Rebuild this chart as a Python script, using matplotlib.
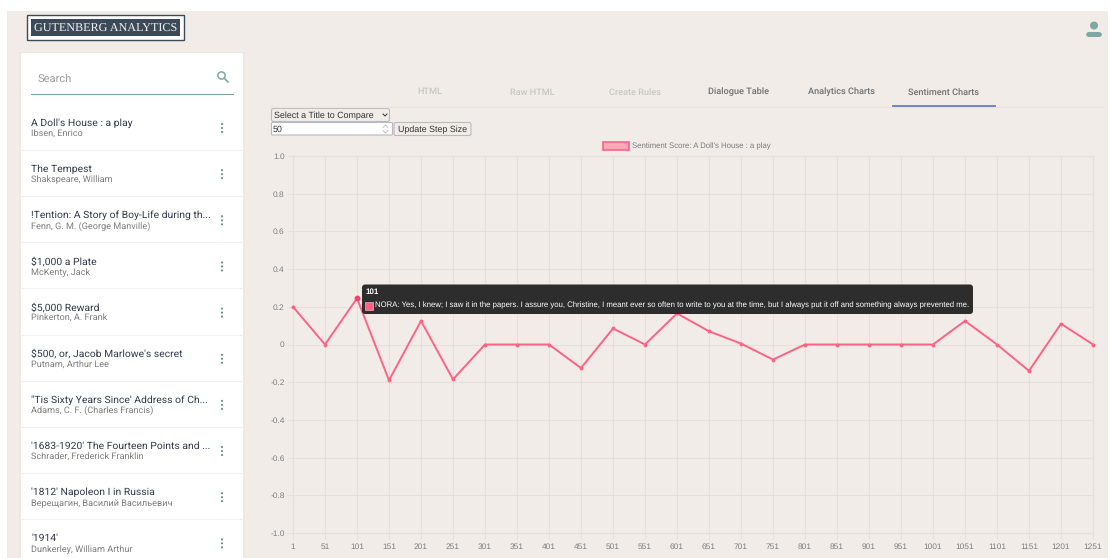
import matplotlib
matplotlib.use('Agg')
import matplotlib.pyplot as plt
from matplotlib.patches import Rectangle, FancyBboxPatch, Circle

plt.rcParams['text.hinting'] = 'no_hinting'
plt.rcParams['text.hinting_factor'] = 8

# Chart data
steps = [1, 51, 101, 151, 201, 251, 301, 351, 401, 451, 501, 551, 601, 651, 701, 751,
         801, 851, 901, 951, 1001, 1051, 1101, 1151, 1201, 1251]
scores = [0.2, 0, 0.245, -0.19, 0.125, -0.185, 0, 0, 0, -0.125, 0.085, 0, 0.165, 0.07,
          0.005, -0.08, 0, 0, 0, 0, 0, 0.125, 0, -0.14, 0.11, 0]
y_ticks = [1.0, 0.8, 0.6, 0.4, 0.2, 0, -0.2, -0.4, -0.6, -0.8, -1.0]
y_labels = ['1.0', '0.8', '0.6', '0.4', '0.2', '0', '-0.2', '-0.4', '-0.6', '-0.8', '-1.0']

# Sidebar list
titles = ["A Doll's House : a play", "The Tempest", "!Tention: A Story of Boy-Life during th...",
          "$1,000 a Plate", "$5,000 Reward", "$500, or, Jacob Marlowe's secret",
          "\"Tis Sixty Years Since' Address of Ch...", "'1683-1920' The Fourteen Points and ...",
          "'1812' Napoleon I in Russia", "'1914'"]
authors = ["Ibsen, Enrico", "Shakspeare, William", "Fenn, G. M. (George Manville)", "McKenty, Jack",
           "Pinkerton, A. Frank", "Putnam, Arthur Lee", "Adams, C. F. (Charles Francis)",
           "Schrader, Frederick Franklin", "Верещагин, Василий Васильевич", "Dunkerley, William Arthur"]

# Tabs
tab_names = ['HTML', 'Raw HTML', 'Create Rules', 'Dialogue Table', 'Analytics Charts', 'Sentiment Charts']
tab_x = [430, 532, 635, 738.5, 841, 944]
tab_colors = ['#c8c6c3', '#c8c6c3', '#c8c6c3', '#6f6f6f', '#6f6f6f', '#6f6f6f']

BG = '#f1ece8'
PINK = '#ff6384'
TEAL = '#7fa8a3'
GRID = '#e5e0dc'
W, H = 1110, 558


def pixel_axes(z):
    a = fig.add_axes([0, 0, 1, 1], zorder=z)
    a.set_xlim(0, W)
    a.set_ylim(H, 0)
    a.axis('off')
    a.patch.set_alpha(0)
    return a


def ui_text(a, x, y, s, size, color, **kw):
    kw.setdefault('family', 'Roboto')
    kw.setdefault('va', 'center')
    a.text(x, y, s, fontsize=size, color=color, **kw)


fig = plt.figure(figsize=(W / 100, H / 100), dpi=100, facecolor='white')

# page background and sidebar
back = pixel_axes(0)
back.add_patch(Rectangle((7, 11), 1101, 547, fc=BG, ec='none'))
back.add_patch(Rectangle((19, 52), 226, 506, fc='#ece7e3', ec='none'))
back.add_patch(FancyBboxPatch((21, 53), 222, 510, boxstyle='round,pad=0,rounding_size=2', fc='white', ec='none'))

# logo
back.add_patch(Rectangle((27, 15), 157, 25, fc='white', ec='#3c4a57', lw=1))
back.add_patch(Rectangle((31, 19), 149, 17, fc='#3c4a57', ec='none'))
ui_text(back, 105.5, 28.5, 'GUTENBERG ANALYTICS', 8.7, '#f2f2f2', ha='center', family='Liberation Serif')

# user icon
back.add_patch(Circle((1094, 25.5), 4, fc=TEAL, ec='none'))
back.add_patch(FancyBboxPatch((1086, 32), 16, 5, boxstyle='round,pad=0,rounding_size=3', fc=TEAL, ec='none'))

# search box
ui_text(back, 37.5, 78.5, 'Search', 8.0, '#9b9b9b')
back.plot([31, 232.5], [93.5, 93.5], color=TEAL, lw=0.8)
back.add_patch(Circle((221.5, 75.5), 3.6, fc='none', ec=TEAL, lw=1.1))
back.plot([224.3, 228], [78.3, 82], color=TEAL, lw=1.2)

# sidebar rows
for i in range(len(titles)):
    y = 126 + i * 46.15
    ui_text(back, 31, y, titles[i], 7.5, '#33394a', va='baseline')
    ui_text(back, 31, y + 10.5, authors[i], 6.6, '#7d7d7d', va='baseline')
    for d in (-4, 0, 4):
        back.add_patch(Circle((222, y + 2 + d), 1.05, fc='#5f9188', ec='none'))
    if i < len(titles) - 1:
        back.plot([21, 243], [y + 24, y + 24], color='#f3f1ef', lw=0.8)

# tabs
back.plot([270, 1103], [107, 107], color='#e8e4e0', lw=1)
back.plot([893, 995], [106, 106], color='#6c79c6', lw=1.3)
for x, s, c in zip(tab_x, tab_names, tab_colors):
    ui_text(back, x, 94.5, s, 6.6, c, ha='center', weight='medium', va='baseline')

# form controls
back.add_patch(FancyBboxPatch((271.5, 108.5), 118, 13, boxstyle='round,pad=0,rounding_size=2', fc=BG, ec='#b9b9c2', lw=0.8))
ui_text(back, 274.5, 115.5, 'Select a Title to Compare', 6.4, '#333333', family='Liberation Sans')
back.plot([383, 385, 387], [114, 116, 114], color='#333333', lw=0.7)
back.add_patch(FancyBboxPatch((271.5, 122.5), 121, 12.5, boxstyle='round,pad=0,rounding_size=1', fc='white', ec='#b9b9c2', lw=0.8))
ui_text(back, 273, 129.5, '50', 6.4, '#333333', family='Liberation Sans')
back.plot([383, 385.5, 388], [127.5, 125, 127.5], color='#aaaaaa', lw=0.5)
back.plot([383, 385.5, 388], [130.5, 133, 130.5], color='#aaaaaa', lw=0.5)
back.add_patch(FancyBboxPatch((394, 122.5), 77, 13, boxstyle='round,pad=0,rounding_size=2', fc=BG, ec='#b9b9c2', lw=0.8))
ui_text(back, 432.5, 129.5, 'Update Step Size', 6.4, '#333333', ha='center', family='Liberation Sans')

# legend
back.add_patch(Rectangle((602.5, 141.5), 26, 8, fc='#f9a9ba', ec=PINK, lw=1.2))
ui_text(back, 632, 146, "Sentiment Score: A Doll's House : a play", 5.6, '#7b7b7b', family='Liberation Sans')

# line chart
ax = fig.add_axes([293 / W, 1 - 533 / H, 800 / W, 377 / H], zorder=1)
ax.patch.set_alpha(0)
ax.plot(steps, scores, color=PINK, lw=1.4, marker='o', ms=1.8, mec=PINK, mfc=PINK, clip_on=False, zorder=3)
ax.plot(steps[2], scores[2], 'o', color='#ff3d6a', ms=3.2, zorder=4)
ax.set_xlim(1, 1251)
ax.set_ylim(-1, 1)
ax.set_xticks(steps)
ax.set_yticks(y_ticks)
ax.set_yticklabels(y_labels)
ax.grid(True, color=GRID, lw=0.8)
ax.set_axisbelow(True)
ax.tick_params(axis='both', length=4, width=0.8, color=GRID, labelcolor='#7f7f7f', labelsize=6.0, pad=2)
ax.tick_params(axis='x', pad=3)
for label in ax.get_xticklabels() + ax.get_yticklabels():
    label.set_family('Liberation Sans')
for side in ax.spines:
    ax.spines[side].set_color(GRID)
    ax.spines[side].set_linewidth(0.9)

# hover tooltip
front = pixel_axes(2)
front.add_patch(FancyBboxPatch((362, 284.5), 611, 29.5, boxstyle='round,pad=0,rounding_size=3', fc='#2d2d2d', ec='none'))
front.add_patch(Rectangle((365, 301.5), 8, 8, fc=PINK, ec='#f7d5dc', lw=0.4))
ui_text(front, 366, 292, '101', 5.8, 'white', family='Liberation Sans', weight='bold')
ui_text(front, 375, 305.5,
        'NORA: Yes, I knew; I saw it in the papers. I assure you, Christine, I meant ever so often '
        'to write to you at the time, but I always put it off and something always prevented me.',
        5.55, 'white', family='Liberation Sans')

fig.savefig('out.png', dpi=100)
